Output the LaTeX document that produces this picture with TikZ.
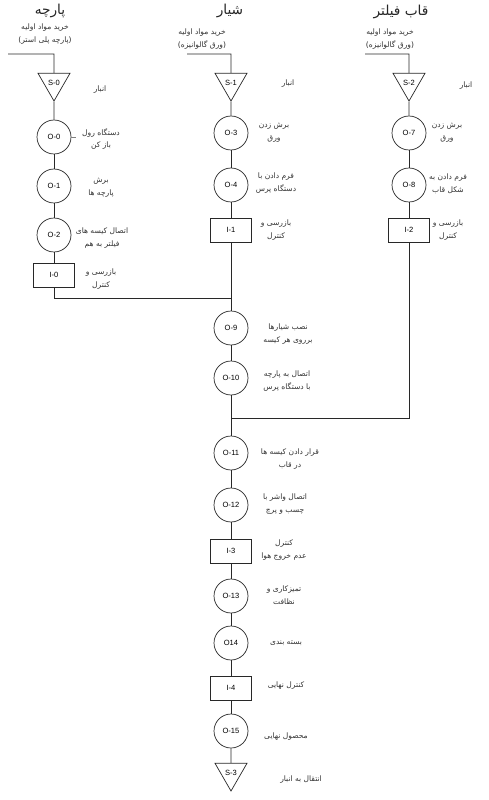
\documentclass[tikz,border=0pt]{standalone}
\usepackage{fontspec}
\setmainfont{Liberation Sans}
\newfontfamily\farsi[Script=Arabic]{DejaVu Sans}
\TeXXeTstate=1
\usepackage{tikz}
\usetikzlibrary{shapes.geometric, positioning}
\definecolor{linegray}{RGB}{40, 40, 40}
\newcommand{\fa}[1]{\beginR #1\endR}

\tikzset{
  opcircle/.style={draw=linegray, circle, minimum size=0.68cm, inner sep=0pt, font=\fontsize{4.3}{5}\selectfont},
  inspbox/.style={draw=linegray, rectangle, minimum width=0.82cm, minimum height=0.48cm, inner sep=0pt, font=\fontsize{4.3}{5}\selectfont},
  storetri/.style={draw=linegray, regular polygon, regular polygon sides=3, shape border rotate=180, minimum size=0.74cm, inner sep=0pt, font=\fontsize{4.3}{5}\selectfont},
  note/.style={align=center, text=black!80, inner sep=0pt, font=\farsi\fontsize{4.3}{7.2}\selectfont},
  header/.style={text=black!85, inner sep=0pt, font=\farsi\fontsize{7.8}{9}\selectfont},
  flow/.style={draw=linegray, line width=0.5pt}
}

\begin{document}
\begin{tikzpicture}[x=0.02cm, y=-0.02cm]
  \useasboundingbox[fill=white] (0,0) rectangle (488,800);

  % column headers
  \node[header] (hL) at (50,11) {\fa{پارچه}};
  \node[header] (hM) at (230,11) {\fa{شیار}};
  \node[header] (hR) at (401,12) {\fa{قاب فیلتر}};

  % raw material inputs
  \node[note] (bL) at (45,34) {\fa{خرید مواد اولیه}\\\fa{(پارچه پلی استر)}};
  \node[note] (bM) at (202,39) {\fa{خرید مواد اولیه}\\\fa{(ورق گالوانیزه)}};
  \node[note] (bR) at (390,39) {\fa{خرید مواد اولیه}\\\fa{(ورق گالوانیزه)}};
  \coordinate (inL) at (8,54);   \coordinate (cL) at (54,54);
  \coordinate (inM) at (187,54); \coordinate (cM) at (231,54);
  \coordinate (inR) at (365,54); \coordinate (cR) at (409,54);

  % left column
  \node[storetri] (S0) at (54,82.5) {S-0};
  \node[opcircle] (O0) at (54,137) {O-0};
  \node[opcircle] (O1) at (54,186) {O-1};
  \node[opcircle] (O2) at (54,235) {O-2};
  \node[inspbox] (I0) at (54,275) {I-0};

  % middle column
  \node[storetri] (S1) at (231,82.5) {S-1};
  \node[opcircle] (O3) at (231,133) {O-3};
  \node[opcircle] (O4) at (231,185) {O-4};
  \node[inspbox] (I1) at (231,230) {I-1};
  \node[opcircle] (O9) at (231,328) {O-9};
  \node[opcircle] (O10) at (231,378) {O-10};
  \node[opcircle] (O11) at (231,453) {O-11};
  \node[opcircle] (O12) at (231,505) {O-12};
  \node[inspbox] (I3) at (231,551) {I-3};
  \node[opcircle] (O13) at (231,596) {O-13};
  \node[opcircle] (O14) at (231,643) {O14};
  \node[inspbox] (I4) at (231,688) {I-4};
  \node[opcircle] (O15) at (231,731) {O-15};
  \node[storetri] (S3) at (231,772.5) {S-3};

  % right column
  \node[storetri] (S2) at (409,82.5) {S-2};
  \node[opcircle] (O7) at (409,133) {O-7};
  \node[opcircle] (O8) at (409,185) {O-8};
  \node[inspbox] (I2) at (409,230) {I-2};

  % junctions
  \coordinate (jL) at (54,298);  \coordinate (jM1) at (231,298);
  \coordinate (jR) at (409,418); \coordinate (jM2) at (231,418);

  % connectors
  \draw[flow] (inL) -- (cL) -- (S0.north);
  \draw[flow] (inM) -- (cM) -- (S1.north);
  \draw[flow] (inR) -- (cR) -- (S2.north);
  \foreach \a/\b in {S0/O0, O0/O1, O1/O2, O2/I0,
                     S1/O3, O3/O4, O4/I1, I1/O9, O9/O10, O10/O11, O11/O12,
                     O12/I3, I3/O13, O13/O14, O14/I4, I4/O15, O15/S3,
                     S2/O7, O7/O8, O8/I2}
    \draw[flow] (\a) -- (\b);
  \draw[flow] (I0) -- (jL) -- (jM1);
  \draw[flow] (I2) -- (jR) -- (jM2);
  \draw[flow, draw=black!50] (O0.east) -- ++(5,0);

  % step labels
  \node[note] (lS0) at (100,90) {\fa{انبار}};
  \node[note] (lS1) at (288,84) {\fa{انبار}};
  \node[note] (lS2) at (466,86) {\fa{انبار}};
  \node[note] (lO0) at (101,139) {\fa{دستگاه رول}\\\fa{باز کن}};
  \node[note] (lO1) at (101,188) {\fa{برش}\\\fa{پارچه ها}};
  \node[note] (lO2) at (102,238) {\fa{اتصال کیسه های}\\\fa{فیلتر به هم}};
  \node[note] (lI0) at (101,279) {\fa{بازرسی و}\\\fa{کنترل}};
  \node[note] (lO3) at (274,133) {\fa{برش زدن}\\\fa{ورق}};
  \node[note] (lO4) at (276,183) {\fa{فرم دادن با}\\\fa{دستگاه پرس}};
  \node[note] (lI1) at (276,230) {\fa{بازرسی و}\\\fa{کنترل}};
  \node[note] (lO7) at (447,133) {\fa{برش زدن}\\\fa{ورق}};
  \node[note] (lO8) at (448,184) {\fa{فرم دادن به}\\\fa{شکل قاب}};
  \node[note] (lI2) at (448,230) {\fa{بازرسی و}\\\fa{کنترل}};
  \node[note] (lO9) at (288,334) {\fa{نصب شیارها}\\\fa{برروی  هر کیسه}};
  \node[note] (lO10) at (287,381) {\fa{اتصال  به پارچه}\\\fa{با دستگاه پرس}};
  \node[note] (lO11) at (290,459) {\fa{قرار دادن کیسه ها}\\\fa{در قاب}};
  \node[note] (lO12) at (285,504) {\fa{اتصال واشر با}\\\fa{چسب و پرچ}};
  \node[note] (lI3) at (284,550) {\fa{کنترل}\\\fa{عدم خروج هوا}};
  \node[note] (lO13) at (284,595) {\fa{تمیزکاری و}\\\fa{نظافت}};
  \node[note] (lO14) at (286,643) {\fa{بسته بندی}};
  \node[note] (lI4) at (286,686) {\fa{کنترل نهایی}};
  \node[note] (lO15) at (286,737) {\fa{محصول نهایی}};
  \node[note] (lS3) at (301,780) {\fa{انتقال به انبار}};
\end{tikzpicture}
\end{document}
